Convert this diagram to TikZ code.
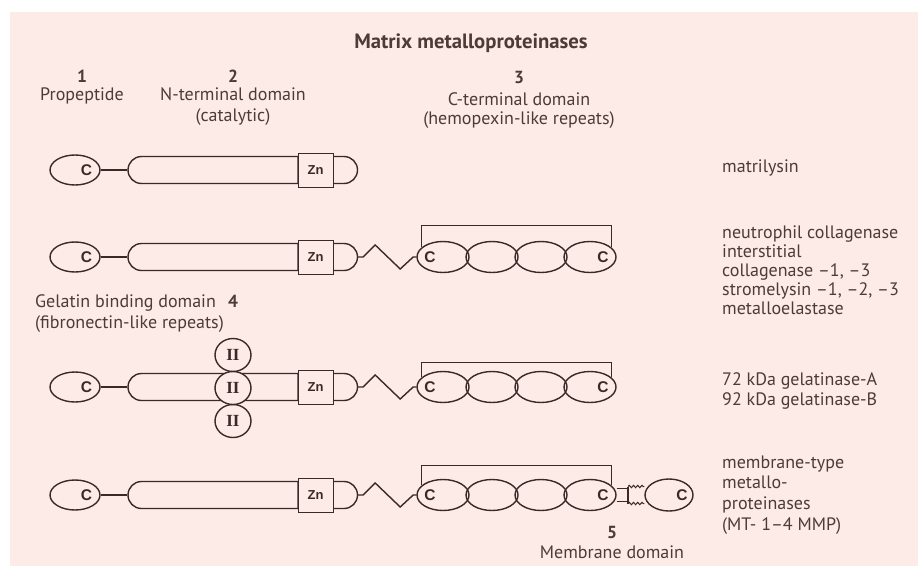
\documentclass[tikz,border=0pt]{standalone}
\usepackage{fontspec}
\setmainfont{PT Sans}
\newfontfamily\cfont{Liberation Sans}
\newfontfamily\rfont{Liberation Serif}
\usetikzlibrary{shapes.geometric,shapes.misc,decorations.pathmorphing}
\definecolor{bgpink}{HTML}{FCEBE6}
\definecolor{ink}{HTML}{3A2A27}
\definecolor{txt}{HTML}{4E3B37}
\tikzset{
  ln/.style={draw=ink, line width=1.4pt},
  thinln/.style={draw=ink, line width=1pt},
  pro/.style={ellipse, ln, minimum width=50pt, minimum height=30pt, inner sep=0pt},
  rod/.style={rounded rectangle, rounded rectangle right arc=none, ln, minimum width=170pt, minimum height=27pt, inner sep=0pt},
  znbox/.style={rectangle, thinln, fill=bgpink, minimum width=35pt, minimum height=34pt, inner sep=0pt, text=ink, font=\cfont\bfseries\fontsize{13}{13}\selectfont},
  capshape/.style={rounded rectangle, rounded rectangle left arc=none, ln, minimum width=22pt, minimum height=27pt, inner sep=0pt},
  hemo/.style={ellipse, ln, minimum width=52pt, minimum height=31pt, inner sep=0pt},
  fib/.style={ellipse, ln, fill=bgpink, minimum width=36pt, minimum height=33pt, inner sep=0pt, text=ink, font=\rfont\bfseries\fontsize{17}{17}\selectfont},
  clet/.style={inner sep=0pt, text=ink, font=\cfont\bfseries\fontsize{15.5}{15.5}\selectfont},
  lbl/.style={inner sep=0pt, text=txt, font=\fontsize{18}{20}\selectfont},
  num/.style={inner sep=0pt, text=txt, font=\bfseries\fontsize{17.5}{20}\selectfont},
  ttl/.style={inner sep=0pt, text=txt, font=\bfseries\fontsize{20.7}{24}\selectfont},
}
\newcommand\mmpcore[2]{%
  \node[pro] (p#1) at (75,#2) {};
  \node[clet] (pc#1) at ([xshift=11.5pt]p#1.center) {C};
  \node[rod] (rod#1) at (213,#2) {};
  \node[capshape] (cap#1) at (344,#2) {};
  \node[znbox] (zn#1) at (315.5,#2) {Zn};
  \draw[ln] (p#1.east) -- (rod#1.west);
}
\newcommand\hemorow[3]{%
  \node[hemo] (a#1) at (443,#2) {};
  \node[hemo] (b#1) at (492,#2) {};
  \node[hemo] (c#1) at (541,#2) {};
  \node[hemo] (d#1) at (590,#2) {};
  \node[clet] (ac#1) at ([xshift=-13pt]a#1.center) {C};
  \node[clet] (dc#1) at ([xshift=13pt]d#1.center) {C};
  \draw[ln] (cap#1.east) -- ++(5,0) -- ++(12,-12) -- ++(25,24) -- ++(13,-12) -- (a#1.west);
  \coordinate (bk#1) at (520,#3);
  \draw[thinln] (a#1.155) -- (a#1.155 |- bk#1) -| (d#1.25);
}
\begin{document}
\begin{tikzpicture}[x=1pt,y=-1pt]
\useasboundingbox (0,0) rectangle (918,573);
\fill[bgpink] (10,12) rectangle (918,566);

% title and headers
\node[ttl, anchor=base] (title) at (471,48) {Matrix metalloproteinases};
\node[num, anchor=base] (n1) at (82,82) {1};
\node[lbl, anchor=base] (h1a) at (82,100) {Propeptide};
\node[num, anchor=base] (n2) at (233,82) {2};
\node[lbl, anchor=base] (h2a) at (233,100) {N-terminal domain};
\node[lbl, anchor=base] (h2b) at (233,121) {(catalytic)};
\node[num, anchor=base] (n3) at (519,83) {3};
\node[lbl, anchor=base] (h3a) at (519,105) {C-terminal domain};
\node[lbl, anchor=base] (h3b) at (519,124) {(hemopexin-like repeats)};

% row 1
\mmpcore{1}{170}
% row 2
\mmpcore{2}{257}
\hemorow{2}{257}{225}
% row 3
\mmpcore{3}{387}
\node[fib] (f1) at (233,355) {II};
\node[fib] (f3) at (233,421) {II};
\node[fib] (f2) at (233,388) {II};
\hemorow{3}{387}{362}
% row 4
\mmpcore{4}{495}
\hemorow{4}{495}{465}
\node[hemo, minimum width=48pt, minimum height=32pt] (m4) at (669,495) {};
\node[clet] (mc4) at ([xshift=13pt]m4.center) {C};
\coordinate (s1) at (628,488.5);
\coordinate (s2) at (628,501.5);
\draw[ln] (d4.east |- s1) -- (s1);
\draw[ln] (d4.east |- s2) -- (s2);
\draw[ln] (628,486.5) -- (628,503.5);
\draw[thinln, decorate, decoration={snake, amplitude=1.2pt, segment length=4.2pt}] (628,486.5) -- (m4.west |- 0,486.5);
\draw[thinln, decorate, decoration={snake, amplitude=1.2pt, segment length=4.2pt}] (628,503.5) -- (m4.west |- 0,503.5);

% gelatin binding label
\node[lbl, anchor=base west] (g1) at (35,307) {Gelatin binding domain};
\node[num, anchor=base] (n4) at (233,307) {4};
\node[lbl, anchor=base west] (g2) at (35,328) {(fibronectin-like repeats)};

% membrane label
\node[num, anchor=base] (n5) at (612,538) {5};
\node[lbl, anchor=base] (mem) at (612,558) {Membrane domain};

% right column
\node[lbl, anchor=base west] (r1) at (722,172) {matrilysin};
\node[lbl, anchor=base west] (r2a) at (722,238) {neutrophil collagenase};
\node[lbl, anchor=base west] (r2b) at (722,257) {interstitial};
\node[lbl, anchor=base west] (r2c) at (722,276) {collagenase –1, –3};
\node[lbl, anchor=base west] (r2d) at (722,295) {stromelysin –1, –2, –3};
\node[lbl, anchor=base west] (r2e) at (722,314) {metalloelastase};
\node[lbl, anchor=base west] (r3a) at (722,385) {72 kDa gelatinase-A};
\node[lbl, anchor=base west] (r3b) at (722,405) {92 kDa gelatinase-B};
\node[lbl, anchor=base west] (r4a) at (722,468) {membrane-type};
\node[lbl, anchor=base west] (r4b) at (722,488) {metallo-};
\node[lbl, anchor=base west] (r4c) at (722,509) {proteinases};
\node[lbl, anchor=base west] (r4d) at (722,530) {(MT- 1–4 MMP)};
\end{tikzpicture}
\end{document}
